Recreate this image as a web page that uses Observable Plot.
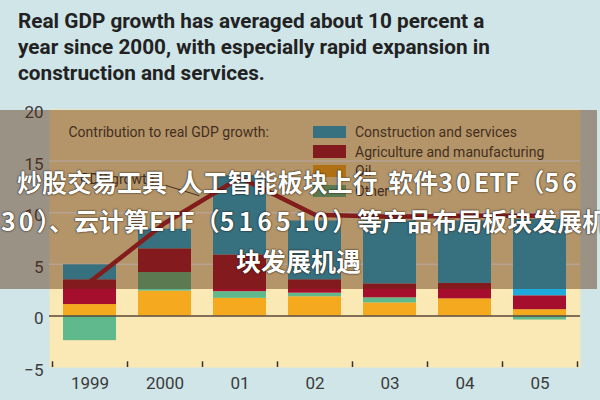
<!DOCTYPE html>
<html><head><meta charset="utf-8">
<script src="https://cdn.jsdelivr.net/npm/d3@7"></script>
<script src="https://cdn.jsdelivr.net/npm/@observablehq/plot@0.6"></script>
<style>
html,body{margin:0;padding:0;background:#cfe5e8;}
#wrap{position:relative;width:600px;height:400px;overflow:hidden;background:#cfe5e8;font-family:Roboto,"Liberation Sans",sans-serif;}
#title{position:absolute;left:18px;top:8px;font-weight:700;font-size:21px;line-height:26px;color:#222;white-space:nowrap;transform-origin:0 0;}
#chart{position:absolute;left:0;top:100px;}
#legend{position:absolute;left:313px;top:122px;}
.row{display:flex;align-items:center;height:19.7px;}
.sw{width:33px;height:12.5px;margin-right:9px;}
.lab{font-size:14px;color:#333;white-space:nowrap;}
#veil{position:absolute;left:0;top:110px;width:597px;height:179px;background:rgba(88,42,8,0.44);}
.cn{position:absolute;white-space:nowrap;font-family:"Noto Sans CJK SC",sans-serif;font-weight:700;font-size:25px;line-height:25px;color:#fff;word-spacing:5px;
text-shadow:0 0 2px rgba(30,15,5,0.9),0 0 1px rgba(0,0,0,0.8);}
.cn .n{letter-spacing:3px;}
</style></head>
<body>
<div id="wrap">
  <div id="title">Real GDP growth has averaged about 10 percent a<br>year since 2000, with especially rapid expansion in<br>construction and services.</div>
  <div id="chart"></div>
  <div id="legend"></div>
  <div id="veil"></div>
  <div class="cn" style="left:17px;top:169px;">炒股交易工具 人工智能板块上行 软件<span class="n">30</span>ETF（<span class="n">56</span></div>
  <div class="cn" style="left:1px;top:208px;"><span class="n">30</span>）、云计算ETF（<span class="n" style="letter-spacing:4px;">516510</span>）等产品布局板块发展机</div>
  <div class="cn" style="left:236px;top:248px;">块发展机遇</div>
</div>
<script>
// ---- data ----
const years = ["1999", "2000", "01", "02", "03", "04", "05"];
const series = ["Oil", "Other", "Agriculture and manufacturing", "Construction and services"];
const colors = ["#f4a91e", "#5fb98c", "#a50f2d", "#1ea8dc"];
const oil    = [1.1, 2.4, 1.7, 1.85, 1.25, 1.65, 0.6];
const other  = [-2.4, 1.8, 0.65, 0.35, 0.5, 0.0, -0.4];
const agri   = [2.4, 2.3, 3.55, 1.3, 1.35, 1.5, 1.35];
const constr = [1.45, 1.9, 7.7, 5.7, 6.1, 6.05, 7.4];
const gdp    = [3.3, 9.0, 13.4, 9.8, 9.6, 9.7, 9.7];
const yTicks = [-5, 0, 5, 10, 15, 20];
const gridTicks = [5, 10, 15];
const legendOrder = ["Construction and services", "Agriculture and manufacturing", "Oil", "Other"];

const rows = [];
years.forEach((yr, i) => {
  [oil, other, agri, constr].forEach((arr, k) => rows.push({year: yr, series: series[k], value: arr[i]}));
});
const gdpRows = years.map((yr, i) => ({year: yr, value: gdp[i]}));
const boundaries = years.map((yr) => ({year: yr, side: -1})).concat([{year: years[years.length - 1], side: 1}]);
const leader = [{x1: years[0], x2: years[1], y1: 13.9, y2: 11.65}];
const gdpLabel = [{year: years[0], value: 13.2, text: "GDP growth"}];

const chart = Plot.plot({
  width: 600, height: 300,
  marginTop: 9, marginBottom: 33, marginLeft: 49, marginRight: 20,
  style: {background: "transparent", fontFamily: "Roboto, 'Liberation Sans', sans-serif", overflow: "visible"},
  x: {domain: years, paddingInner: 0.29, paddingOuter: 0.145},
  y: {domain: [-5, 20]},
  color: {domain: series, range: colors},
  marks: [
    Plot.frame({fill: "#fae9b4", stroke: "none"}),
    Plot.ruleY(gridTicks, {stroke: "#ffffff", strokeWidth: 1.5}),
    Plot.barY(rows, {x: "year", y: "value", fill: "series", order: series}),
    Plot.ruleY([0], {stroke: "#5b4636", strokeWidth: 1.5}),
    Plot.ruleX(boundaries, {x: "year", y1: -5, y2: -4.45, stroke: "#333", strokeWidth: 1.5}),
    Plot.line(gdpRows, {x: "year", y: "value", stroke: "#a3142c", strokeWidth: 4.5}),
    Plot.arrow(leader, {x1: "x1", x2: "x2", y1: "y1", y2: "y2", dx: 34, insetStart: 44, headLength: 0, bend: 0, stroke: "#333", strokeWidth: 1}),
    Plot.text(gdpLabel, {x: "year", y: "value", text: "text", dx: -10, textAnchor: "start", fontSize: 14, fill: "#333"}),
    Plot.text(["Contribution to real GDP growth:"], {frameAnchor: "top-left", dx: 19, dy: 23, textAnchor: "start", lineAnchor: "middle", fontSize: 14, fill: "#333"}),
    Plot.axisY({ticks: yTicks, tickSize: 0, tickPadding: 6, fontSize: 17, fill: "#3b3b3b", dy: 3, label: null}),
    Plot.axisX({tickSize: 0, tickPadding: 9, fontSize: 17, fill: "#3b3b3b", label: null})
  ]
});
document.getElementById("chart").appendChild(chart);

// boundary tick offsets: half a band step left (or right for the last)
(function () {
  const step = chart.scale("x").step;
  const g = chart.querySelectorAll("g[aria-label='rule']");
  const rules = g[g.length - 1].querySelectorAll("line");
  rules.forEach((ln, i) => {
    ln.setAttribute("transform", `translate(${boundaries[i].side * step / 2},0)`);
  });
})();

// legend
const leg = document.getElementById("legend");
legendOrder.forEach((s) => {
  const r = document.createElement("div"); r.className = "row";
  const sw = document.createElement("div"); sw.className = "sw"; sw.style.background = colors[series.indexOf(s)];
  const lb = document.createElement("div"); lb.className = "lab"; lb.textContent = s;
  r.appendChild(sw); r.appendChild(lb); leg.appendChild(r);
});

// fit title width (condensed face)
(function () {
  const t = document.getElementById("title");
  const w = t.getBoundingClientRect().width;
  t.style.transform = `scaleX(${472 / w})`;
})();
</script>
</body></html>
